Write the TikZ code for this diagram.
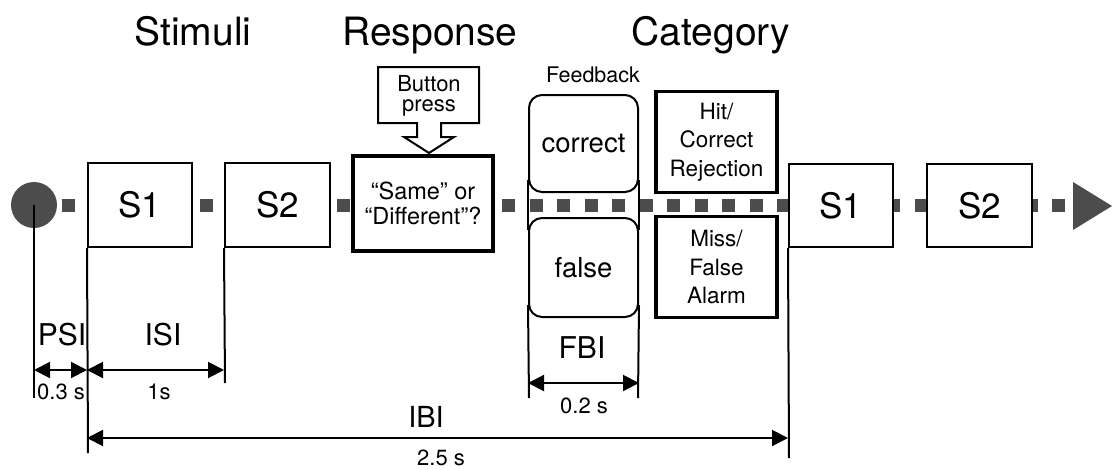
\documentclass[tikz,border=0pt]{standalone}
\usepackage{fontspec}
\setmainfont{TeX Gyre Heros}
\usetikzlibrary{positioning,arrows.meta,shapes,calc}

\begin{document}
\begin{tikzpicture}[x=1pt,y=-1pt,
    stimbox/.style={draw,line width=2pt,fill=white,minimum width=104pt,minimum height=84pt,inner sep=0pt,font=\fontsize{35}{40}\selectfont},
    fbbox/.style={draw,line width=2pt,fill=white,rounded corners=13pt,minimum width=109pt,minimum height=97pt,inner sep=0pt,font=\fontsize{27.5}{33}\selectfont},
    catbox/.style={draw,line width=3.5pt,fill=white,minimum width=121pt,minimum height=101pt,inner sep=0pt,align=center,font=\fontsize{22.5}{28.5}\selectfont},
    title/.style={anchor=base,font=\fontsize{39}{47}\selectfont},
    dimlabel/.style={anchor=base,font=\fontsize{30}{36}\selectfont},
    timelabel/.style={anchor=base,font=\fontsize{22}{26}\selectfont},
    dimline/.style={line width=2pt},
    dimarrow/.style={line width=2pt,{Triangle[length=16pt,width=16pt]}-{Triangle[length=16pt,width=16pt]}},
    dotrow/.style={draw=black!70,line width=13pt,dash pattern=on 13pt off 14.5pt}
]
    \useasboundingbox (0,0) rectangle (1112,469);

    % Titles
    \node[title] (stimuli) at (193,45) {Stimuli};
    \node[title] (response) at (430,45) {Response};
    \node[title] (category) at (711,45) {Category};

    % Dotted time line (drawn first, boxes cover it)
    \draw[dotrow] (62,205) -- (1067,205);
    \fill[black!70] (1073,182) -- (1112,206) -- (1073,230) -- cycle;
    \node[circle,fill=black!70,minimum size=46pt,inner sep=0pt] (dot) at (34,205) {};

    % Stimuli
    \node[stimbox] (s1a) at (140,205) {S1};
    \node[stimbox,minimum width=105pt] (s2a) at (277.5,205) {S2};

    % Response
    \node[draw,line width=4pt,fill=white,minimum width=140pt,minimum height=95pt,inner sep=0pt,
          align=center,font=\fontsize{23.5}{25}\selectfont] (resp) at (423,203.5) {“Same” or\\“Different”?};
    \draw[line width=2pt,fill=white] (378,67) -- (479,67) -- (479,123) -- (441,123) -- (441,137)
        -- (454,137) -- (429,153) -- (404,137) -- (417,137) -- (417,123) -- (378,123) -- cycle;
    \node[align=center,font=\fontsize{22}{20}\selectfont] (button) at (429,96) {Button\\press};

    % Feedback column
    \node[anchor=base,font=\fontsize{21.5}{26}\selectfont] (fblabel) at (593,82) {Feedback};
    \node[fbbox] (corr) at (583.5,143.5) {correct};
    \node[fbbox,minimum height=99pt] (fals) at (583.5,267.5) {false};
    \draw[dimline] ($(corr.south west)+(0,-13)$) -- ($(fals.north west)+(0,13)$);
    \draw[dimline] ($(corr.south east)+(0,-13)$) -- ($(fals.north east)+(0,13)$);

    % Category
    \node[catbox] (hit) at (716.5,142) {Hit/\\Correct\\Rejection};
    \node[catbox] (miss) at (716.5,267) {Miss/\\False\\Alarm};

    % Next trial
    \node[stimbox,minimum height=83pt] (s1b) at (841,205.5) {S1};
    \node[stimbox,minimum width=105pt,minimum height=83pt] (s2b) at (979.5,205.5) {S2};

    % Interval ticks
    \coordinate (psiy) at (0,370);
    \coordinate (fbiy) at (0,383);
    \coordinate (ibiy) at (0,438);
    \draw[dimline] (dot.center) -- (34,398);
    \draw[dimline] (s1a.south west) -- (88,453);
    \draw[dimline] (s2a.south west) -- (225,383);
    \draw[dimline] ($(fals.south west)+(0,-13)$) -- (529,398);
    \draw[dimline] ($(fals.south east)+(0,-13)$) -- (638,398);
    \draw[dimline] (s1b.south west) -- (789,458);

    % Interval arrows
    \draw[dimarrow] (dot.center |- psiy) -- (s1a.south west |- psiy);
    \draw[dimarrow] (s1a.south west |- psiy) -- (s2a.south west |- psiy);
    \draw[dimarrow] (fals.south west |- fbiy) -- (fals.south east |- fbiy);
    \draw[dimarrow] (s1a.south west |- ibiy) -- (s1b.south west |- ibiy);

    % Interval labels
    \node[dimlabel] (psi) at (62,345) {PSI};
    \node[dimlabel] (isi) at (163,345) {ISI};
    \node[dimlabel] (fbi) at (582,358) {FBI};
    \node[dimlabel,font=\fontsize{29}{35}\selectfont] (ibi) at (426,427) {IBI};
    \node[timelabel] (psit) at (61,399) {0.3 s};
    \node[timelabel] (isit) at (159,399) {1s};
    \node[timelabel] (fbit) at (584,413) {0.2 s};
    \node[timelabel] (ibit) at (441,465) {2.5 s};
\end{tikzpicture}
\end{document}
